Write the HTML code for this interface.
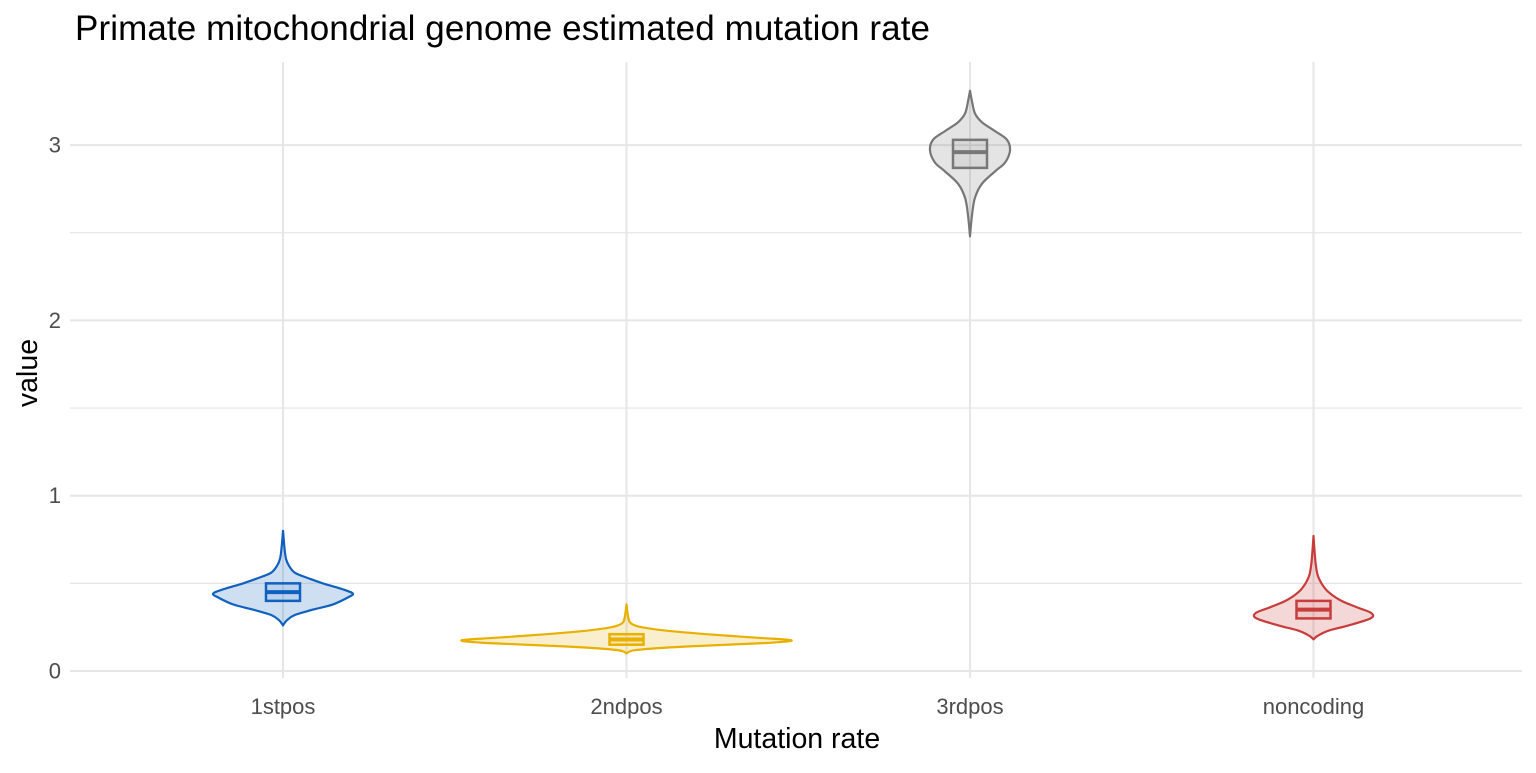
<!DOCTYPE html>
<html><head><meta charset="utf-8"><style>
body{margin:0;background:#fff;font-family:"Liberation Sans",Arial,sans-serif}
</style></head><body>
<svg id="chart" width="1536" height="768" xmlns="http://www.w3.org/2000/svg" font-family="Liberation Sans, Arial, sans-serif">
<text x="75" y="40" font-size="35" textLength="855" fill="#000">Primate mitochondrial genome estimated mutation rate</text>
<g id="grid"></g><g id="marks"></g><g id="axes"></g>
<text x="797" y="748" font-size="28.5" text-anchor="middle" fill="#000">Mutation rate</text>
<text transform="translate(37,373) rotate(-90)" font-size="28.5" text-anchor="middle" fill="#000">value</text>
</svg>
<script>
const categories=["1stpos","2ndpos","3rdpos","noncoding"];
const colors=["#1060c0","#e8b000","#777777","#c83c3c"];
const yTicks=[0,1,2,3];
const v1Vals=[0.26,0.29,0.32,0.35,0.38,0.42,0.44,0.46,0.50,0.53,0.56,0.60,0.64,0.70,0.80];
const v1Dens=[0,4,12,30,50,65,70,63,40,25,12,6,3,1.5,0];
const v2Vals=[0.10,0.12,0.14,0.16,0.175,0.19,0.21,0.23,0.25,0.27,0.30,0.38];
const v2Dens=[0,10,60,140,165,130,80,40,15,5,2,0];
const v3Vals=[2.48,2.6,2.7,2.78,2.85,2.9,2.97,3.03,3.08,3.13,3.18,3.25,3.31];
const v3Dens=[0,2,5,12,25,35,40,37,25,12,5,2,0];
const v4Vals=[0.18,0.2,0.23,0.26,0.30,0.33,0.36,0.40,0.45,0.50,0.55,0.62,0.77];
const v4Dens=[0,4,15,35,57,58,45,28,15,8,4,2,0];
const q1=[0.40,0.15,2.87,0.30];
const medians=[0.45,0.18,2.96,0.35];
const q3=[0.50,0.21,3.03,0.40];
const vals=[v1Vals,v2Vals,v3Vals,v4Vals], dens=[v1Dens,v2Dens,v3Dens,v4Dens];

const NS="http://www.w3.org/2000/svg";
const L=70,R=1522,T=62,B=678;
const y=v=>671-v*175.3;
const x=i=>283+i*343.5;
function mk(t,a,p){const e=document.createElementNS(NS,t);for(const k in a)e.setAttribute(k,a[k]);p.appendChild(e);return e;}
function smooth(pts){let d='M'+pts[0][0].toFixed(1)+','+pts[0][1].toFixed(1);
 for(let i=0;i<pts.length-1;i++){const p0=pts[Math.max(0,i-1)],p1=pts[i],p2=pts[i+1],p3=pts[Math.min(pts.length-1,i+2)];
  const c1=[p1[0]+(p2[0]-p0[0])/6,p1[1]+(p2[1]-p0[1])/6],c2=[p2[0]-(p3[0]-p1[0])/6,p2[1]-(p3[1]-p1[1])/6];
  d+=` C${c1[0].toFixed(1)},${c1[1].toFixed(1)} ${c2[0].toFixed(1)},${c2[1].toFixed(1)} ${p2[0].toFixed(1)},${p2[1].toFixed(1)}`;}
 return d;}
const grid=document.getElementById('grid'),marks=document.getElementById('marks'),axes=document.getElementById('axes');
for(let v=0;v<=3.5;v+=0.5){if(y(v)<T)break;
 const g=mk('line',{x1:L,x2:R,y1:y(v),y2:y(v),stroke:'#e6e6e6','stroke-width':v%1===0?2:1.2},grid);
 }
categories.forEach((c,i)=>{const g=mk('line',{x1:x(i),x2:x(i),y1:T,y2:B,stroke:'#e6e6e6','stroke-width':2},grid);
 
 const t=mk('text',{x:x(i),y:714,'font-size':22,'text-anchor':'middle',fill:'#4d4d4d'},axes);t.textContent=c;
 });
yTicks.forEach(v=>{const t=mk('text',{x:61,y:y(v)+7.5,'font-size':22,'text-anchor':'end',fill:'#4d4d4d'},axes);t.textContent=v;
 });
categories.forEach((c,i)=>{
 const vs=vals[i],ds=dens[i],cx=x(i);
 const right=[],left=[];
 for(let k=0;k<vs.length;k++)right.push([cx+ds[k],y(vs[k])]);
 for(let k=vs.length-1;k>=0;k--)left.push([cx-ds[k],y(vs[k])]);
 const d=smooth(right)+' '+smooth(left).replace('M','L')+'Z';
 const p=mk('path',{d:d,fill:colors[i],'fill-opacity':0.2,stroke:colors[i],'stroke-width':2.2,'stroke-linejoin':'round'},marks);
 
 const bw=17;
 const b=mk('rect',{x:cx-bw,y:y(q3[i]),width:bw*2,height:y(q1[i])-y(q3[i]),fill:colors[i],'fill-opacity':0.1,stroke:colors[i],'stroke-width':2.5},marks);
 
 const m=mk('line',{x1:cx-bw,x2:cx+bw,y1:y(medians[i]),y2:y(medians[i]),stroke:colors[i],'stroke-width':4},marks);
 
});
</script>
</body></html>
